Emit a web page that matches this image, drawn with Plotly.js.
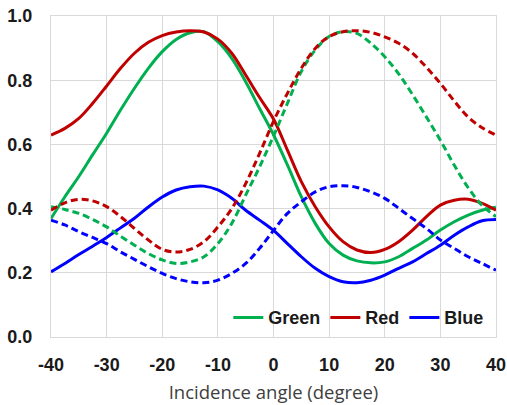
<!DOCTYPE html>
<html>
<head>
<meta charset="utf-8">
<script src="https://cdn.plot.ly/plotly-3.0.1.min.js"></script>
<style>html,body{margin:0;padding:0;background:#fff;}#chart{width:507px;height:405px;}</style>
</head>
<body>
<div id="chart"></div>
<script>
const angles = [-40, -37.5, -35, -32.5, -30, -27.5, -25, -22.5, -20, -17.5, -15, -12.5, -10, -7.5, -5, -2.5,
                0, 2.5, 5, 7.5, 10, 12.5, 15, 17.5, 20, 22.5, 25, 27.5, 30, 32.5, 35, 37.5, 40];

const greenSolid = [0.369, 0.437, 0.500, 0.568, 0.635, 0.707, 0.775, 0.837, 0.889, 0.927, 0.948, 0.951, 0.920, 0.868, 0.795, 0.712,
                    0.630, 0.536, 0.437, 0.354, 0.291, 0.255, 0.237, 0.231, 0.234, 0.250, 0.276, 0.302, 0.333, 0.359, 0.380, 0.395, 0.404];
const redSolid   = [0.629, 0.650, 0.681, 0.728, 0.782, 0.837, 0.884, 0.918, 0.939, 0.950, 0.954, 0.950, 0.928, 0.884, 0.816, 0.746,
                    0.679, 0.582, 0.484, 0.406, 0.343, 0.297, 0.271, 0.263, 0.273, 0.297, 0.333, 0.375, 0.411, 0.426, 0.429, 0.416, 0.395];
const blueSolid  = [0.203, 0.229, 0.257, 0.283, 0.310, 0.340, 0.370, 0.405, 0.436, 0.458, 0.468, 0.470, 0.458, 0.432, 0.395, 0.364,
                    0.332, 0.291, 0.250, 0.214, 0.188, 0.172, 0.169, 0.177, 0.193, 0.214, 0.234, 0.260, 0.286, 0.317, 0.343, 0.362, 0.366];

const greenDashed = [0.406, 0.397, 0.385, 0.366, 0.343, 0.314, 0.286, 0.260, 0.240, 0.229, 0.234, 0.250, 0.291, 0.354, 0.442, 0.530,
                     0.626, 0.728, 0.827, 0.894, 0.936, 0.951, 0.946, 0.915, 0.873, 0.820, 0.755, 0.685, 0.613, 0.535, 0.465, 0.410, 0.375];
const redDashed   = [0.395, 0.418, 0.429, 0.424, 0.406, 0.375, 0.338, 0.302, 0.273, 0.265, 0.273, 0.297, 0.343, 0.400, 0.478, 0.572,
                     0.672, 0.759, 0.837, 0.899, 0.936, 0.951, 0.954, 0.949, 0.935, 0.915, 0.884, 0.840, 0.790, 0.735, 0.685, 0.652, 0.629];
const blueDashed  = [0.364, 0.349, 0.328, 0.310, 0.291, 0.265, 0.242, 0.219, 0.198, 0.182, 0.172, 0.169, 0.177, 0.198, 0.229, 0.276,
                     0.332, 0.385, 0.421, 0.452, 0.468, 0.471, 0.466, 0.452, 0.432, 0.401, 0.369, 0.338, 0.302, 0.276, 0.250, 0.229, 0.208];

const seriesNames = ['Green', 'Red', 'Blue'];
const colors = ['#00B050', '#C00000', '#0000FF'];
const solids = [greenSolid, redSolid, blueSolid];
const dasheds = [greenDashed, redDashed, blueDashed];

const traces = [];
for (let i = 0; i < 3; i++) {
  traces.push({
    x: angles, y: solids[i], type: 'scatter', mode: 'lines', name: seriesNames[i],
    line: {color: colors[i], width: 3, shape: 'spline', smoothing: 1}, showlegend: true
  });
}
for (let i = 0; i < 3; i++) {
  traces.push({
    x: angles, y: dasheds[i], type: 'scatter', mode: 'lines', name: seriesNames[i] + ' (mirror)',
    line: {color: colors[i], width: 3, shape: 'spline', smoothing: 1, dash: '7px,4px'}, showlegend: false
  });
}

const gridColor = '#d9d9d9';
const layout = {
  width: 507, height: 405,
  margin: {l: 51, r: 11, t: 16, b: 68, pad: 0},
  paper_bgcolor: '#ffffff', plot_bgcolor: '#ffffff',
  font: {family: 'Liberation Sans, Arial, sans-serif', color: '#1a1a1a'},
  showlegend: true,
  legend: {
    orientation: 'h', x: 0.985, xanchor: 'right', y: 0.06, yanchor: 'middle',
    bgcolor: 'rgba(255,255,255,0)', font: {size: 18, family: 'Liberation Sans, Arial, sans-serif', color: '#1a1a1a', weight: 'bold'},
    itemwidth: 30, tracegroupgap: 0
  },
  xaxis: {
    range: [-40, 40], tickmode: 'array', tickvals: [-40, -30, -20, -10, 0, 10, 20, 30, 40],
    ticktext: ['-40', '-30', '-20', '-10', '0', '10', '20', '30', '40'],
    showgrid: true, gridcolor: gridColor, gridwidth: 1,
    zeroline: true, zerolinecolor: gridColor, zerolinewidth: 1,
    showline: true, linecolor: gridColor, linewidth: 1, mirror: true,
    ticks: '', ticklabelstandoff: 11,
    tickfont: {size: 18, family: 'Liberation Sans, Arial, sans-serif', color: '#1a1a1a', weight: 'bold'},
    title: {text: 'Incidence angle (degree)', font: {size: 18.5, family: 'Open Sans, Noto Sans, sans-serif', color: '#404040'}, standoff: 12}
  },
  yaxis: {
    range: [0, 1], tickmode: 'array', tickvals: [0, 0.2, 0.4, 0.6, 0.8, 1.0],
    ticktext: ['0.0', '0.2', '0.4', '0.6', '0.8', '1.0'],
    showgrid: true, gridcolor: gridColor, gridwidth: 1,
    zeroline: true, zerolinecolor: gridColor, zerolinewidth: 1,
    showline: true, linecolor: gridColor, linewidth: 1, mirror: true,
    ticks: '', ticklabelstandoff: 14,
    tickfont: {size: 18, family: 'Liberation Sans, Arial, sans-serif', color: '#1a1a1a', weight: 'bold'}
  }
};

Plotly.newPlot('chart', traces, layout, {displayModeBar: false, staticPlot: true});
</script>
</body>
</html>
